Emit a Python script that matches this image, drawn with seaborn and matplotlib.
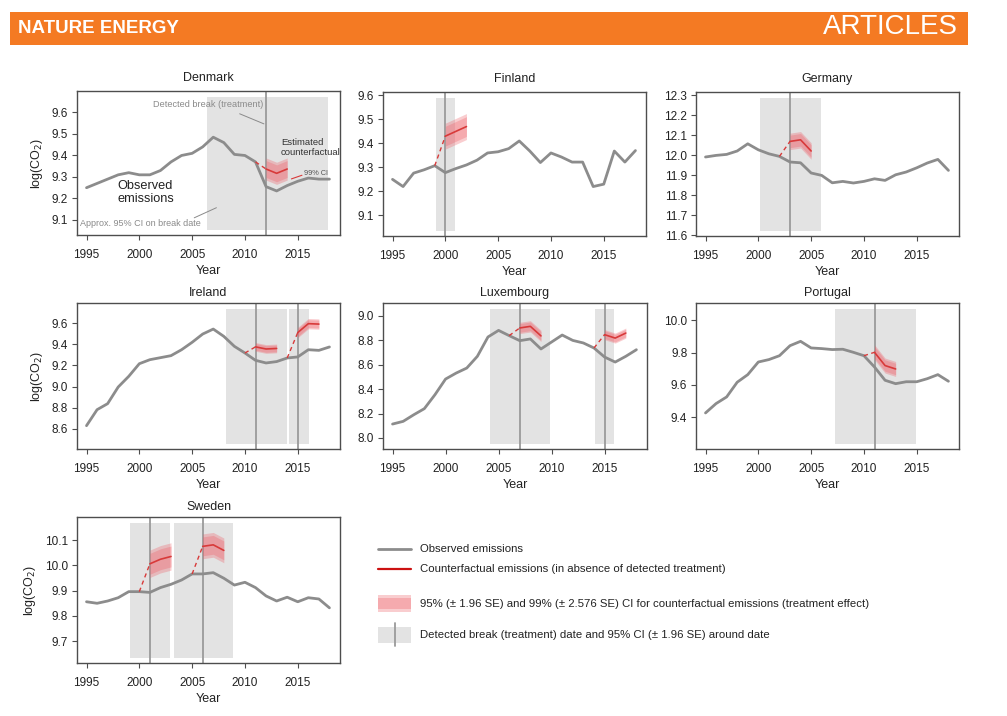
import matplotlib
matplotlib.use("Agg")
import matplotlib.pyplot as plt
from matplotlib.patches import Rectangle
import seaborn as sns

# ---- data ----
years = list(range(1995, 2019))

denmark_obs = [9.25, 9.27, 9.29, 9.31, 9.32, 9.31, 9.31, 9.33, 9.37, 9.40, 9.41, 9.44,
               9.485, 9.46, 9.405, 9.40, 9.37, 9.255, 9.235, 9.26, 9.28, 9.295, 9.29, 9.29]
finland_obs = [9.25, 9.22, 9.276, 9.29, 9.307, 9.278, 9.295, 9.31, 9.33, 9.36, 9.365, 9.378,
               9.41, 9.368, 9.32, 9.36, 9.343, 9.322, 9.322, 9.22, 9.23, 9.368, 9.322, 9.37]
germany_obs = [11.992, 12.0, 12.005, 12.022, 12.058, 12.028, 12.008, 11.995, 11.967, 11.963,
               11.912, 11.9, 11.863, 11.87, 11.862, 11.87, 11.883, 11.875, 11.903, 11.917,
               11.938, 11.962, 11.98, 11.925]
ireland_obs = [8.631, 8.782, 8.839, 8.996, 9.097, 9.216, 9.254, 9.273, 9.292, 9.348, 9.418,
               9.496, 9.543, 9.474, 9.38, 9.317, 9.248, 9.223, 9.236, 9.27, 9.28, 9.348,
               9.342, 9.374]
luxembourg_obs = [8.114, 8.136, 8.19, 8.24, 8.354, 8.482, 8.531, 8.572, 8.668, 8.826, 8.88,
                  8.837, 8.796, 8.81, 8.728, 8.785, 8.842, 8.798, 8.777, 8.736, 8.662, 8.621,
                  8.668, 8.722]
portugal_obs = [9.427, 9.485, 9.526, 9.617, 9.664, 9.742, 9.757, 9.781, 9.843, 9.870, 9.829,
                9.825, 9.819, 9.821, 9.802, 9.781, 9.711, 9.629, 9.608, 9.62, 9.62, 9.639,
                9.664, 9.623]
sweden_obs = [9.856, 9.85, 9.859, 9.872, 9.896, 9.896, 9.893, 9.912, 9.925, 9.942, 9.966,
              9.966, 9.971, 9.949, 9.922, 9.933, 9.912, 9.879, 9.859, 9.874, 9.856, 9.872,
              9.867, 9.832]

# detected breaks, 95% CI on break date, counterfactual path, SE of counterfactual
denmark_breaks = [2012]
denmark_break_ci = [(2006.4, 2017.9)]
denmark_cf = [[9.337, 9.317, 9.337]]
denmark_se = [0.02]

finland_breaks = [2000]
finland_break_ci = [(1999.1, 2000.9)]
finland_cf = [[9.43, 9.45, 9.47]]
finland_se = [0.021]

germany_breaks = [2003]
germany_break_ci = [(2000.2, 2005.9)]
germany_cf = [[12.07, 12.078, 12.022]]
germany_se = [0.016]

ireland_breaks = [2011, 2015]
ireland_break_ci = [(2008.25, 2014.0), (2014.2, 2016.05)]
ireland_cf = [[9.375, 9.355, 9.36], [9.51, 9.594, 9.59]]
ireland_se = [0.016, 0.019]

luxembourg_breaks = [2007, 2015]
luxembourg_break_ci = [(2004.15, 2009.85), (2014.1, 2015.9)]
luxembourg_cf = [[8.9, 8.913, 8.835], [8.845, 8.817, 8.858]]
luxembourg_se = [0.018, 0.016]

portugal_breaks = [2011]
portugal_break_ci = [(2007.3, 2014.9)]
portugal_cf = [[9.802, 9.72, 9.699]]
portugal_se = [0.018]

sweden_breaks = [2001, 2006]
sweden_break_ci = [(1999.15, 2002.95), (2003.25, 2008.9)]
sweden_cf = [[10.006, 10.024, 10.035], [10.075, 10.081, 10.059]]
sweden_se = [0.021, 0.019]

countries = ["Denmark", "Finland", "Germany", "Ireland", "Luxembourg", "Portugal", "Sweden"]
ylims = [(9.03, 9.70), (9.014, 9.614), (11.597, 12.317), (8.411, 9.789),
         (7.91, 9.104), (9.204, 10.107), (9.614, 10.191)]
yticks = [[9.1, 9.2, 9.3, 9.4, 9.5, 9.6],
          [9.1, 9.2, 9.3, 9.4, 9.5, 9.6],
          [11.6, 11.7, 11.8, 11.9, 12.0, 12.1, 12.2, 12.3],
          [8.6, 8.8, 9.0, 9.2, 9.4, 9.6],
          [8.0, 8.2, 8.4, 8.6, 8.8, 9.0],
          [9.4, 9.6, 9.8, 10.0],
          [9.7, 9.8, 9.9, 10.0, 10.1]]
xticks = [1995, 2000, 2005, 2010, 2015]

series = {
    "Denmark": (denmark_obs, denmark_breaks, denmark_break_ci, denmark_cf, denmark_se),
    "Finland": (finland_obs, finland_breaks, finland_break_ci, finland_cf, finland_se),
    "Germany": (germany_obs, germany_breaks, germany_break_ci, germany_cf, germany_se),
    "Ireland": (ireland_obs, ireland_breaks, ireland_break_ci, ireland_cf, ireland_se),
    "Luxembourg": (luxembourg_obs, luxembourg_breaks, luxembourg_break_ci, luxembourg_cf, luxembourg_se),
    "Portugal": (portugal_obs, portugal_breaks, portugal_break_ci, portugal_cf, portugal_se),
    "Sweden": (sweden_obs, sweden_breaks, sweden_break_ci, sweden_cf, sweden_se),
}

# ---- style ----
sns.set_style("ticks")
plt.rcParams['font.family'] = ['Liberation Sans', 'DejaVu Sans']
plt.rcParams['axes.edgecolor'] = '#4d4d4d'
plt.rcParams['axes.linewidth'] = 1.0
plt.rcParams['xtick.color'] = '#4d4d4d'
plt.rcParams['ytick.color'] = '#4d4d4d'
plt.rcParams['xtick.labelcolor'] = '#222222'
plt.rcParams['ytick.labelcolor'] = '#222222'

OBS = '#8c8c8c'
RED = '#d83a3a'
PINK = '#ee5a63'
BAND = '#e3e3e3'
VLINE = '#9a9a9a'
TXT = '#222222'

W, H = 1007, 716
fig = plt.figure(figsize=(W / 100, H / 100), dpi=100)

# panel boxes in pixels: left, top, right, bottom
boxes = [(77, 91, 340, 235), (383, 92, 646, 236), (696, 92, 959, 236),
         (77, 303, 340, 449), (383, 303, 647, 449), (696, 303, 959, 449),
         (77, 517, 340, 663)]

axes = {}
for i, name in enumerate(countries):
    l, t, r, b = boxes[i]
    ax = fig.add_axes([l / W, 1 - b / H, (r - l) / W, (b - t) / H])
    axes[name] = ax
    obs, breaks, bci, cfs, ses = series[name]

    for (lo, hi) in bci:
        ax.axvspan(lo, hi, ymin=0.037, ymax=0.96, color=BAND, lw=0, zorder=1)
    for bk in breaks:
        ax.axvline(bk, color=VLINE, lw=1.3, zorder=2)

    sns.lineplot(x=years, y=obs, ax=ax, color=OBS, lw=2.0, zorder=3)

    for bk, cf, se in zip(breaks, cfs, ses):
        cy = [bk + k for k in range(len(cf))]
        lo99 = [v - 2.576 * se for v in cf]
        hi99 = [v + 2.576 * se for v in cf]
        lo95 = [v - 1.96 * se for v in cf]
        hi95 = [v + 1.96 * se for v in cf]
        ax.fill_between(cy, lo99, hi99, color=PINK, alpha=0.3, lw=0, zorder=4)
        ax.fill_between(cy, lo95, hi95, color=PINK, alpha=0.3, lw=0, zorder=4)
        prev = obs[years.index(bk - 1)]
        ax.plot([bk - 1, bk], [prev, cf[0]], color=RED, lw=1.0, ls=(0, (3, 2.5)), zorder=5)
        sns.lineplot(x=cy, y=cf, ax=ax, color=RED, lw=1.2, zorder=5)

    ax.set_xlim(1994.1, 2019.0)
    ax.set_ylim(*ylims[i])
    ax.set_xticks(xticks)
    ax.set_yticks(yticks[i])
    ax.set_yticklabels([f"{v:.1f}" for v in yticks[i]])
    ax.tick_params(axis='both', labelsize=8.5, length=3.8, width=0.8)
    ax.tick_params(axis='x', pad=6)
    ax.tick_params(axis='y', pad=2.5)
    ax.set_title(name, fontsize=9, pad=7 if i < 3 else 5, color=TXT)
    ax.set_xlabel("Year", fontsize=9, labelpad=3, color=TXT)
    if name in ("Denmark", "Ireland", "Sweden"):
        ax.set_ylabel("log(CO$_2$)", fontsize=9, labelpad=5, color=TXT)
    else:
        ax.set_ylabel("")

# Denmark annotations
ax = axes["Denmark"]
gtxt = '#8a8a8a'
ax.text(2001.3, 9.636, "Detected break (treatment)", fontsize=6.6, color=gtxt, va='center', zorder=6)
ax.plot([2009.5, 2011.8], [9.594, 9.547], color=gtxt, lw=0.7, zorder=6)
ax.text(2013.4, 9.438, "Estimated\ncounterfactual", fontsize=6.8, color='#333333',
        va='center', linespacing=1.2, zorder=6)
ax.text(2015.6, 9.315, "99% CI", fontsize=5.3, color='#555555', va='center', zorder=6)
ax.plot([2014.4, 2015.4], [9.291, 9.308], color=RED, lw=0.8, zorder=6)
ax.text(1997.9, 9.228, "Observed\nemissions", fontsize=9.2, color=TXT,
        va='center', linespacing=1.05, zorder=6)
ax.text(1994.4, 9.082, "Approx. 95% CI on break date", fontsize=6.5, color=gtxt,
        va='center', zorder=6)
ax.plot([2005.2, 2007.3], [9.11, 9.157], color=gtxt, lw=0.7, zorder=6)

# overlay in pixel coordinates for header and legend
ov = fig.add_axes([0, 0, 1, 1], zorder=-1)
ov.set_xlim(0, W)
ov.set_ylim(H, 0)
ov.axis('off')

ov.add_patch(Rectangle((10, 12), 958, 33, color='#f47a23', lw=0))
ov.text(18, 28.5, "NATURE ENERGY", fontsize=13.5, fontweight='bold', color='white',
        va='center', ha='left')
ov.text(958, 27.5, "ARTICLES", fontsize=20, color='white', va='center', ha='right')

# legend
lx0, lx1, tx = 378, 411, 420
fs = 8.2
ov.plot([lx0, lx1], [549, 549], color=OBS, lw=2.0)
ov.text(tx, 549, "Observed emissions", fontsize=fs, va='center', color=TXT)
ov.plot([lx0, lx1], [569, 569], color='#cc1111', lw=1.6)
ov.text(tx, 569, "Counterfactual emissions (in absence of detected treatment)", fontsize=fs,
        va='center', color=TXT)
ov.add_patch(Rectangle((lx0, 595), lx1 - lx0, 17, color=PINK, alpha=0.3, lw=0))
ov.add_patch(Rectangle((lx0, 598), lx1 - lx0, 11, color=PINK, alpha=0.3, lw=0))
ov.text(tx, 604, "95% (\u00b1 1.96 SE) and 99% (\u00b1 2.576 SE) CI for counterfactual emissions (treatment effect)",
        fontsize=fs, va='center', color=TXT)
ov.add_patch(Rectangle((lx0, 627), lx1 - lx0, 16, color=BAND, lw=0))
ov.plot([395, 395], [623, 646], color=VLINE, lw=1.3)
ov.text(tx, 635, "Detected break (treatment) date and 95% CI (\u00b1 1.96 SE) around date",
        fontsize=fs, va='center', color=TXT)

fig.savefig("out.png", dpi=100)
